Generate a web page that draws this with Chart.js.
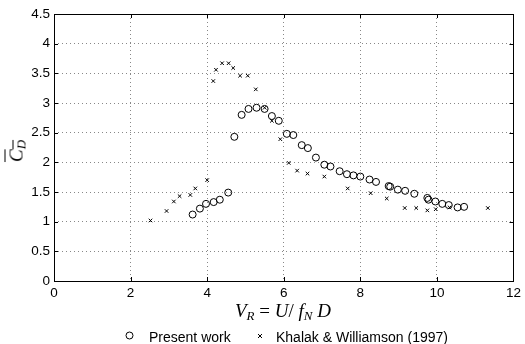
<!DOCTYPE html>
<html>
<head>
<meta charset="utf-8">
<script src="https://cdn.jsdelivr.net/npm/chart.js@4/dist/chart.umd.min.js"></script>
<style>
  body { margin: 0; background: #fff; }
  #wrap { position: relative; width: 525px; height: 344px; }
  .txt { position: absolute; font-family: "Liberation Sans", Arial, sans-serif; font-size: 14px; color: #000; white-space: nowrap; line-height: 1; }
  .math { position: absolute; font-family: "Liberation Serif", "Times New Roman", serif; font-style: italic; font-size: 19px; color: #000; white-space: nowrap; line-height: 1; }
  .math sub { font-size: 13px; vertical-align: -3px; }
  .up { font-style: normal; }
</style>
</head>
<body>
<div id="wrap">
  <canvas id="cdChart" width="525" height="344"></canvas>
  <div class="math" id="xTitle" style="left:283px; top:311px; transform:translate(-50%,-50%);">V<sub>R</sub> <span class="up">=</span> U<span class="up">/</span> f<sub>N</sub> D</div>
  <div class="math" id="yTitle" style="left:17px; top:151px; transform:translate(-50%,-50%) rotate(-90deg);"><span style="text-decoration:overline; text-decoration-thickness:1px;">C<sub>D</sub></span></div>
  <div class="txt" style="left:149px; top:337px; transform:translateY(-50%);">Present work</div>
  <div class="txt" style="left:276px; top:337px; transform:translateY(-50%);">Khalak &amp; Williamson (1997)</div>
</div>
<script>
// present work (circles)
const presentVR = [3.62, 3.81, 3.97, 4.17, 4.33, 4.55, 4.71, 4.90, 5.08, 5.29, 5.50, 5.69, 5.87,
    6.08, 6.25, 6.47, 6.63, 6.84, 7.06, 7.22, 7.46, 7.65, 7.82, 8.00, 8.24, 8.41, 8.74, 8.78,
    8.98, 9.17, 9.41, 9.75, 9.78, 9.96, 10.14, 10.31, 10.54, 10.71];
const presentCD = [1.12, 1.22, 1.30, 1.33, 1.37, 1.49, 2.43, 2.80, 2.90, 2.92, 2.90, 2.78, 2.70,
    2.48, 2.46, 2.29, 2.24, 2.08, 1.96, 1.93, 1.85, 1.80, 1.78, 1.76, 1.71, 1.67, 1.60, 1.59,
    1.54, 1.52, 1.47, 1.40, 1.37, 1.34, 1.30, 1.28, 1.24, 1.25];

// Khalak & Williamson (1997) (crosses)
const khalakVR = [2.52, 2.94, 3.13, 3.28, 3.56, 3.69, 4.00, 4.16, 4.23, 4.39, 4.56, 4.68, 4.86,
    5.06, 5.27, 5.50, 5.69, 5.91, 6.13, 6.35, 6.62, 7.06, 7.67, 8.27, 8.69, 9.16, 9.46, 9.75,
    9.97, 10.33, 11.33];
const khalakCD = [1.02, 1.18, 1.34, 1.43, 1.45, 1.56, 1.70, 3.37, 3.56, 3.67, 3.67, 3.59, 3.46,
    3.46, 3.23, 2.92, 2.70, 2.39, 1.99, 1.86, 1.81, 1.76, 1.56, 1.48, 1.39, 1.23, 1.23, 1.19,
    1.21, 1.24, 1.23];

const xTicks = [0, 2, 4, 6, 8, 10, 12];
const yTicks = [0, 0.5, 1, 1.5, 2, 2.5, 3, 3.5, 4, 4.5];

const toPoints = (xs, ys) => xs.map((x, i) => ({ x: x, y: ys[i] }));

// box frame, inward ticks and legend markers
const framePlugin = {
    id: "frame",
    afterDraw(chart) {
        const ctx = chart.ctx;
        const a = chart.chartArea;
        const xs = chart.scales.x, ys = chart.scales.y;
        ctx.save();
        ctx.strokeStyle = "#000";
        ctx.lineWidth = 1;
        ctx.strokeRect(Math.round(a.left) + 0.5, Math.round(a.top) + 0.5,
            Math.round(a.right - a.left), Math.round(a.bottom - a.top));
        ctx.beginPath();
        xTicks.forEach(v => {
            const px = Math.round(xs.getPixelForValue(v)) + 0.5;
            ctx.moveTo(px, a.bottom); ctx.lineTo(px, a.bottom - 4);
            ctx.moveTo(px, a.top); ctx.lineTo(px, a.top + 4);
        });
        yTicks.forEach(v => {
            const py = Math.round(ys.getPixelForValue(v)) + 0.5;
            ctx.moveTo(a.left, py); ctx.lineTo(a.left + 4, py);
            ctx.moveTo(a.right, py); ctx.lineTo(a.right - 4, py);
        });
        ctx.stroke();

        // legend markers
        ctx.beginPath();
        ctx.arc(129.5, 335.5, 3.5, 0, Math.PI * 2);
        ctx.stroke();
        ctx.beginPath();
        ctx.moveTo(258, 334); ctx.lineTo(262, 338);
        ctx.moveTo(262, 334); ctx.lineTo(258, 338);
        ctx.stroke();
        ctx.restore();
    }
};

const tickFont = { family: "Liberation Sans", size: 13.5 };

const ctx = document.getElementById("cdChart").getContext("2d");
const chart = new Chart(ctx, {
    type: "scatter",
    data: {
        datasets: [{
            label: "Present work",
            data: toPoints(presentVR, presentCD),
            pointStyle: "circle",
            pointRadius: 3.5,
            borderColor: "#000",
            backgroundColor: "rgba(0,0,0,0)",
            borderWidth: 1
        }, {
            label: "Khalak & Williamson (1997)",
            data: toPoints(khalakVR, khalakCD),
            pointStyle: "crossRot",
            pointRadius: 2.5,
            borderColor: "#000",
            backgroundColor: "#000",
            borderWidth: 1
        }]
    },
    options: {
        responsive: false,
        animation: false,
        devicePixelRatio: 1,
        layout: { padding: { left: 0, right: 10, top: 14, bottom: 0 } },
        plugins: { legend: { display: false }, tooltip: { enabled: false } },
        scales: {
            x: {
                type: "linear",
                min: 0, max: 12,
                afterFit(s) { s.height = 63; },
                afterBuildTicks(s) { s.ticks = xTicks.map(v => ({ value: v })); },
                grid: { color: "#888", drawTicks: false },
                border: { display: false, dash: [1, 3] },
                ticks: { color: "#000", padding: 4, font: tickFont, maxRotation: 0,
                    callback: v => String(v) }
            },
            y: {
                type: "linear",
                min: 0, max: 4.5,
                afterFit(s) { s.width = 54; },
                afterBuildTicks(s) { s.ticks = yTicks.map(v => ({ value: v })); },
                grid: { color: "#888", drawTicks: false },
                border: { display: false, dash: [1, 3] },
                ticks: { color: "#000", padding: 4, font: tickFont,
                    callback: v => String(v) }
            }
        }
    },
    plugins: [framePlugin]
});
</script>
</body>
</html>
